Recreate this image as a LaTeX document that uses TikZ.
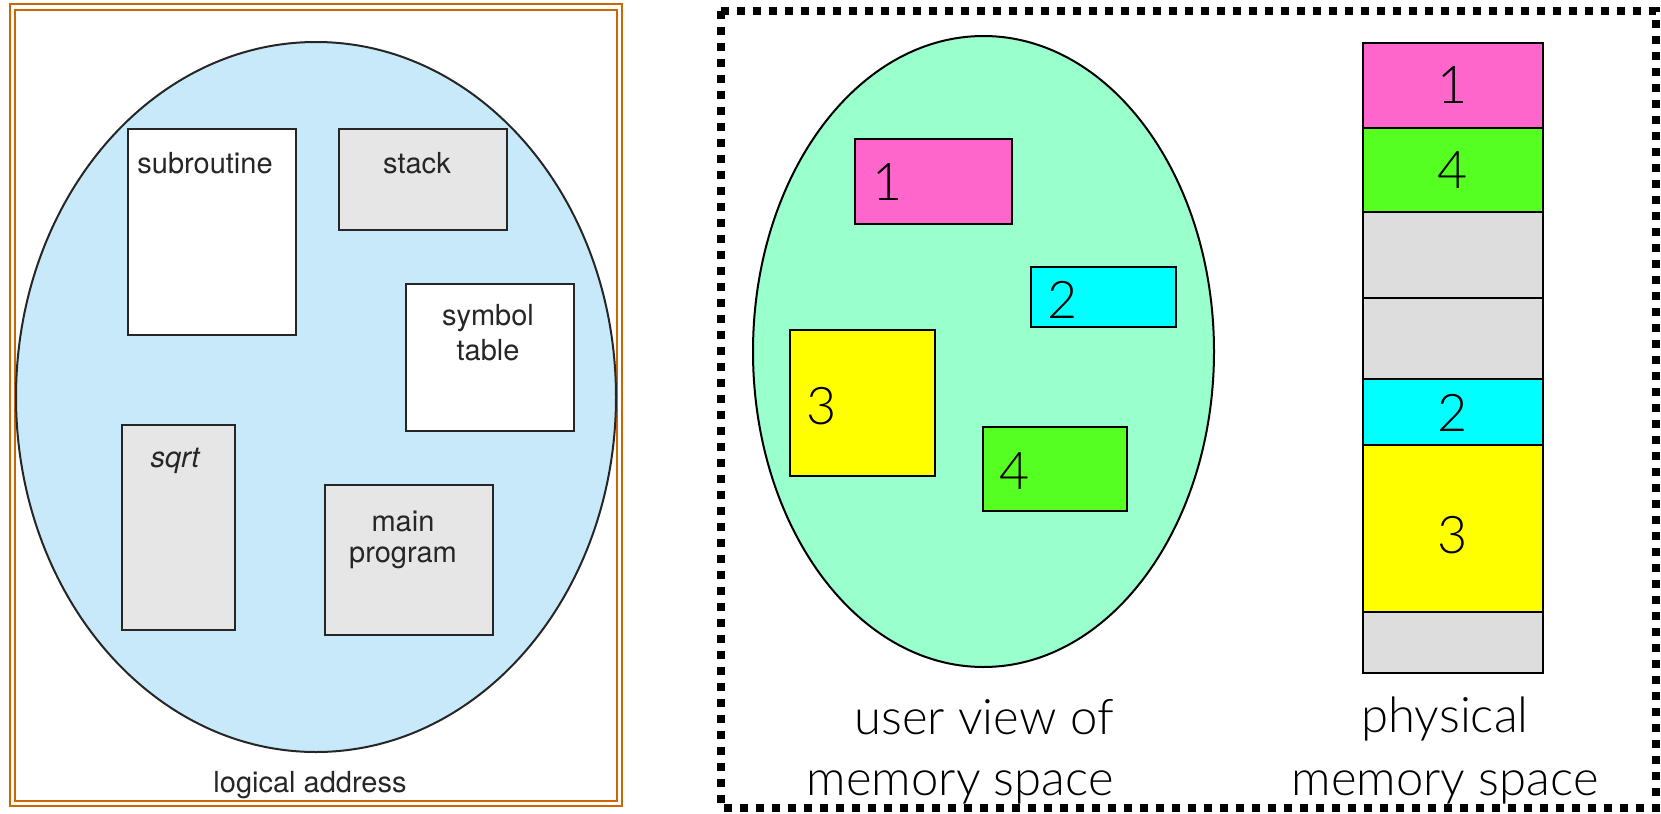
\documentclass[tikz,border=0pt]{standalone}
\usepackage{fontspec}
\setmainfont{TeX Gyre Heros}
\newfontfamily\gill{Lato Light}
\definecolor{frameor}{HTML}{CC6600}
\definecolor{lblue}{HTML}{C8E9F9}
\definecolor{lgray}{HTML}{E6E6E6}
\definecolor{mint}{HTML}{99FFCC}
\definecolor{pinkc}{HTML}{FF66CC}
\definecolor{cyanc}{HTML}{00FFFF}
\definecolor{yellowc}{HTML}{FFFF00}
\definecolor{greenc}{HTML}{55FF22}
\definecolor{pgray}{HTML}{DDDDDD}
\begin{document}
\begin{tikzpicture}[x=0.5pt,y=-0.5pt,
  lbox/.style={draw=black!85,line width=0.9pt},
  ltext/.style={font=\fontsize{14.5}{17}\selectfont,text=black!85,inner sep=0pt},
  gbox/.style={draw=black,line width=0.9pt},
  gtext/.style={font=\gill\fontsize{26}{30}\selectfont,inner sep=0pt},
  ptext/.style={font=\gill\fontsize{24.5}{32}\selectfont,inner sep=0pt,align=center},
  pcell/.style={draw=black,line width=1.4pt}]
\useasboundingbox (0,0) rectangle (1661,814);
% left frame
\draw[frameor,line width=1pt] (10,4) rectangle (622,806);
\draw[frameor,line width=1pt] (15,10) rectangle (617,801);
\draw[fill=lblue,draw=black!85,line width=1pt] (316,397) ellipse [x radius=300,y radius=355];
\draw[lbox,fill=white] (128,129) rectangle (296,335);
\node[ltext,anchor=west] (sub) at (137,163) {subroutine};
\draw[lbox,fill=lgray] (339,129) rectangle (507,230);
\node[ltext] (stk) at (417,163) {stack};
\draw[lbox,fill=white] (406,284) rectangle (574,431);
\node[ltext] (sym1) at (488,318) {symbol};
\node[ltext] (sym2) at (488,350) {table};
\draw[lbox,fill=lgray] (122,425) rectangle (235,630);
\node[ltext,font=\fontsize{14.5}{17}\selectfont\itshape] (sq) at (175,461) {sqrt};
\draw[lbox,fill=lgray] (325,485) rectangle (493,635);
\node[ltext] (mp1) at (403,521) {main};
\node[ltext] (mp2) at (403,558) {program};
\node[ltext] (la) at (310,785) {logical address};
% right frame
\draw[line width=4pt,dash pattern=on 4pt off 4pt] (721,11) rectangle (1656,808);
\draw[fill=mint,draw=black,line width=1pt] (983.5,351.5) ellipse [x radius=230.5,y radius=315.5];
\draw[gbox,fill=pinkc] (855,139) rectangle (1012,224);
\node[gtext] (u1) at (888,182) {1};
\draw[gbox,fill=cyanc] (1031,267) rectangle (1176,327);
\node[gtext] (u2) at (1063,300) {2};
\draw[gbox,fill=yellowc] (790,330) rectangle (935,476);
\node[gtext] (u3) at (822,406) {3};
\draw[gbox,fill=greenc] (983,427) rectangle (1127,511);
\node[gtext] (u4) at (1015,471) {4};
% physical column
\draw[pcell,fill=pinkc] (1363,43) rectangle (1543,128);
\draw[pcell,fill=greenc] (1363,128) rectangle (1543,212);
\draw[pcell,fill=pgray] (1363,212) rectangle (1543,298);
\draw[pcell,fill=pgray] (1363,298) rectangle (1543,379);
\draw[pcell,fill=cyanc] (1363,379) rectangle (1543,445);
\draw[pcell,fill=yellowc] (1363,445) rectangle (1543,612);
\draw[pcell,fill=pgray] (1363,612) rectangle (1543,673);
\node[gtext] (p1) at (1453,85) {1};
\node[gtext] (p4) at (1453,170) {4};
\node[gtext] (p2) at (1453,413) {2};
\node[gtext] (p3) at (1453,535) {3};
\node[ptext,anchor=east] (uv1) at (1114,717) {user view of};
\node[ptext,anchor=east] (uv2) at (1114,787) {memory space};
\node[ptext] (ph1) at (1445,719) {physical};
\node[ptext] (ph2) at (1445,787) {memory space};
\end{tikzpicture}
\end{document}
